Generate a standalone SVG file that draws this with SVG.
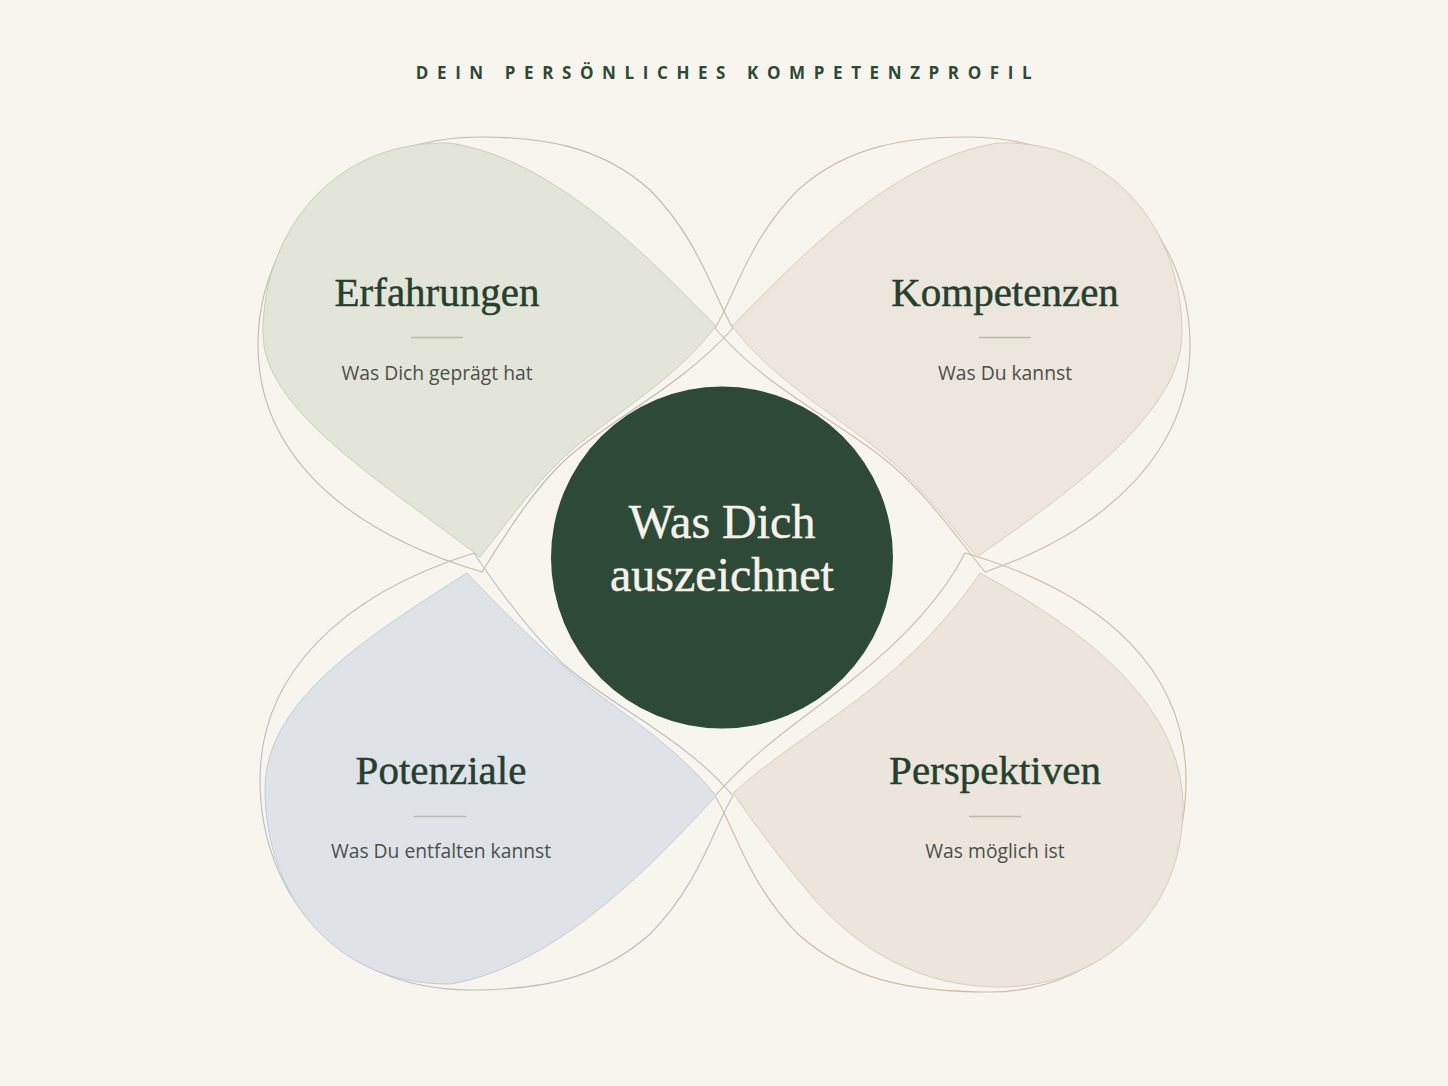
<svg xmlns="http://www.w3.org/2000/svg" width="1448" height="1086" viewBox="0 0 1448 1086">
  <style>
    .title{font-family:"Open Sans","Liberation Sans",sans-serif;font-weight:700;font-size:17px;letter-spacing:8.6px;fill:#2b4a38}
    .head{font-family:"Liberation Serif","Times New Roman",serif;font-size:41px;fill:#24402f;stroke:#24402f;stroke-width:0.45;text-anchor:middle}
    .sub{font-family:"Open Sans","Liberation Sans",sans-serif;font-size:19.3px;fill:#4a504d;text-anchor:middle}
    .ctr{font-family:"Liberation Serif","Times New Roman",serif;font-size:48px;fill:#f6f2ea;stroke:#f6f2ea;stroke-width:0.45;text-anchor:middle}
    .div{stroke:#b3bea4;stroke-width:1.4}
    .ol{fill:none;stroke-width:1.1}
  </style>
  <rect width="1448" height="1086" fill="#f8f4ee"/>
  <text class="title" x="728" y="79" text-anchor="middle">DEIN PERSÖNLICHES KOMPETENZPROFIL</text>

  <g id="connectors">
    <path class="ol" stroke="#bdbbb0" d="M 733,328 C 715,300 700,240 650,190 C 600,145 540,137 481,137 C 350,137 258,230 258,345 C 258,450 340,530 482,572 C 505,535 533,490 565,460 C 608,420 680,388 733,328 Z"/>
    <path class="ol" stroke="#cbbdae" d="M 715,328 C 733,300 748,240 798,190 C 848,145 908,137 967,137 C 1098,137 1190,230 1190,345 C 1190,450 1108,530 985,572 C 955,535 925,492 888,462 C 840,422 765,388 715,328 Z"/>
    <path class="ol" stroke="#b9bec4" d="M 733,796 C 715,824 700,884 650,934 C 600,979 540,990 470,990 C 340,990 260,895 260,780 C 260,675 340,595 474,553 C 500,592 530,632 562,663 C 606,703 685,738 733,796 Z"/>
    <path class="ol" stroke="#ccbcab" d="M 715,796 C 733,824 748,884 798,934 C 848,979 908,992 990,992 C 1108,992 1186,895 1186,780 C 1186,675 1110,595 965,553 C 942,598 900,642 852,680 C 805,718 760,745 715,796 Z"/>
  </g>

  <g id="erfahrungen">
    <path fill="#e4e5d9" stroke="#c9cdbe" stroke-width="1" d="M 716,326 C 660,270 560,160 450,143 C 335,140 263,230 263,333 C 263,410 380,480 480,557 C 508,522 533,486 563,458 C 606,418 672,384 716,326 Z"/>
    <text class="head" x="437" y="306">Erfahrungen</text>
    <line class="div" x1="411" y1="337.5" x2="463" y2="337.5"/>
    <text class="sub" x="437" y="380">Was Dich geprägt hat</text>
  </g>

  <g id="kompetenzen">
    <path fill="#ede6dd" stroke="#d6cdc1" stroke-width="1" d="M 732,326 C 788,270 888,160 998,143 C 1113,140 1182,230 1182,333 C 1182,410 1080,485 977,557 C 948,522 922,488 890,460 C 845,420 776,384 732,326 Z"/>
    <text class="head" x="1005" y="306">Kompetenzen</text>
    <line class="div" x1="979" y1="337.5" x2="1031" y2="337.5"/>
    <text class="sub" x="1005" y="380">Was Du kannst</text>
  </g>

  <g id="potenziale">
    <path fill="#dfe3e7" stroke="#c3ccd6" stroke-width="1" d="M 716,796 C 660,856 560,966 450,984 C 335,985 265,896 265,789 C 265,700 370,635 467,573 C 497,605 530,638 563,666 C 606,704 672,740 716,796 Z"/>
    <text class="head" x="441" y="784">Potenziale</text>
    <line class="div" x1="414" y1="816.5" x2="466" y2="816.5"/>
    <text class="sub" x="441" y="858">Was Du entfalten kannst</text>
  </g>

  <g id="perspektiven">
    <path fill="#ece5dc" stroke="#d7ccc0" stroke-width="1" d="M 733,793 C 770,760 810,735 850,705 C 900,668 945,625 980,573 C 1075,625 1183,700 1183,807 C 1183,915 1100,987 1000,987 C 920,987 860,950 815,900 C 785,865 755,825 733,793 Z"/>
    <text class="head" x="995" y="784">Perspektiven</text>
    <line class="div" x1="969" y1="816.5" x2="1021" y2="816.5"/>
    <text class="sub" x="995" y="858">Was möglich ist</text>
  </g>

  <g id="center">
    <circle cx="722" cy="557.5" r="171" fill="#2d4937"/>
    <text class="ctr" x="722" y="538">Was Dich</text>
    <text class="ctr" x="722" y="591">auszeichnet</text>
  </g>
</svg>
